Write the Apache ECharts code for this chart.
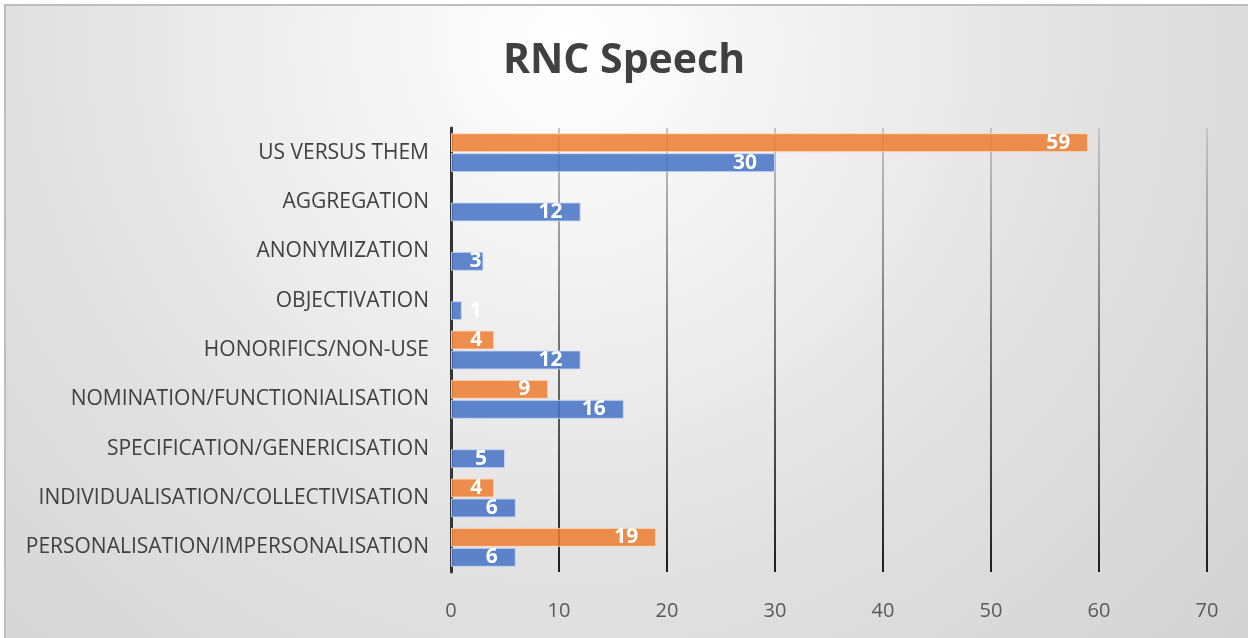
<!DOCTYPE html>
<html>
<head>
<meta charset="utf-8">
<script src="https://cdn.jsdelivr.net/npm/echarts@6/dist/echarts.min.js"></script>
<style>
  html, body { margin: 0; padding: 0; background: #fff; }
  #chart { width: 1248px; height: 638px; }
</style>
</head>
<body>
<div id="chart"></div>
<script>
// categories bottom to top
const categories = [
  'PERSONALISATION/IMPERSONALISATION',
  'INDIVIDUALISATION/COLLECTIVISATION',
  'SPECIFICATION/GENERICISATION',
  'NOMINATION/FUNCTIONIALISATION',
  'HONORIFICS/NON-USE',
  'OBJECTIVATION',
  'ANONYMIZATION',
  'AGGREGATION',
  'US VERSUS THEM'
];
const blueValues = [6, 6, 5, 16, 12, 1, 3, 12, 30];
const orangeValues = [19, 4, null, 9, 4, null, null, null, 59];
const xTicks = [0, 10, 20, 30, 40, 50, 60, 70];

const labelFont = '"Open Sans", sans-serif';

// short bars: label squeezed toward the end, or pushed outside
const toItems = (values) => values.map((v) => {
  if (v === null) return '-';
  if (v < 2) return { value: v, label: { position: 'right', distance: 8 } };
  if (v < 4) return { value: v, label: { distance: 2 } };
  if (v < 5) return { value: v, label: { distance: 12 } };
  return v;
});

const barLabel = {
  show: true,
  position: 'insideRight',
  distance: 18,
  color: '#fff',
  fontFamily: labelFont,
  fontWeight: 'bold',
  fontSize: 21,
  padding: [3, 0, 0, 0],
};

const chart = echarts.init(document.getElementById('chart'));
chart.setOption({
  animation: false,
  backgroundColor: '#fff',
  graphic: [
    {
      type: 'rect',
      z: -10,
      silent: true,
      shape: { x: 5, y: 5, width: 1250, height: 640 },
      style: {
        fill: {
          type: 'radial',
          x: 0.45,
          y: 0.06,
          r: 1.44,
          colorStops: [
            { offset: 0, color: '#ffffff' },
            { offset: 0.6, color: '#e0e0e0' },
            { offset: 1, color: '#d2d2d2' },
          ],
        },
        stroke: '#bdbdbd',
        lineWidth: 2,
      },
    },
  ],
  title: {
    text: 'RNC Speech',
    left: 'center',
    top: 36,
    textStyle: {
      fontFamily: labelFont,
      fontWeight: 'bold',
      fontSize: 41,
      color: '#404040',
    },
  },
  grid: {
    left: 451,
    right: 41,
    top: 128,
    bottom: 66,
    containLabel: false,
  },
  xAxis: {
    type: 'value',
    min: xTicks[0],
    max: xTicks[xTicks.length - 1],
    interval: 10,
    axisLine: { show: false },
    axisTick: { show: false },
    axisLabel: {
      margin: 29,
      color: '#595959',
      fontFamily: labelFont,
      fontSize: 20,
    },
    splitLine: {
      lineStyle: {
        width: 2,
        color: {
          type: 'linear',
          global: true,
          x: 0, y: 128, x2: 0, y2: 572,
          colorStops: [
            { offset: 0, color: '#c4c4c4' },
            { offset: 1, color: '#1e1e1e' },
          ],
        },
      },
    },
  },
  yAxis: {
    type: 'category',
    data: categories,
    axisLine: { lineStyle: { color: '#333', width: 3 } },
    axisTick: { show: false },
    axisLabel: {
      margin: 22,
      color: '#404040',
      fontFamily: labelFont,
      fontSize: 21,
      verticalAlign: 'middle',
      lineHeight: 21,
      padding: [6, 0, 0, 0],
    },
  },
  series: [
    {
      name: 'Series 2',
      type: 'bar',
      data: toItems(orangeValues),
      barWidth: 19,
      barGap: '5%',
      itemStyle: {
        color: 'rgba(237,125,49,0.85)',
        borderColor: 'rgba(255,220,190,0.9)',
        borderWidth: 1,
      },
      label: barLabel,
    },
    {
      name: 'Series 1',
      type: 'bar',
      data: toItems(blueValues),
      barWidth: 19,
      barGap: '5%',
      itemStyle: {
        color: 'rgba(68,114,196,0.85)',
        borderColor: 'rgba(200,215,245,0.9)',
        borderWidth: 1,
      },
      label: barLabel,
    },
  ],
});
</script>
</body>
</html>
